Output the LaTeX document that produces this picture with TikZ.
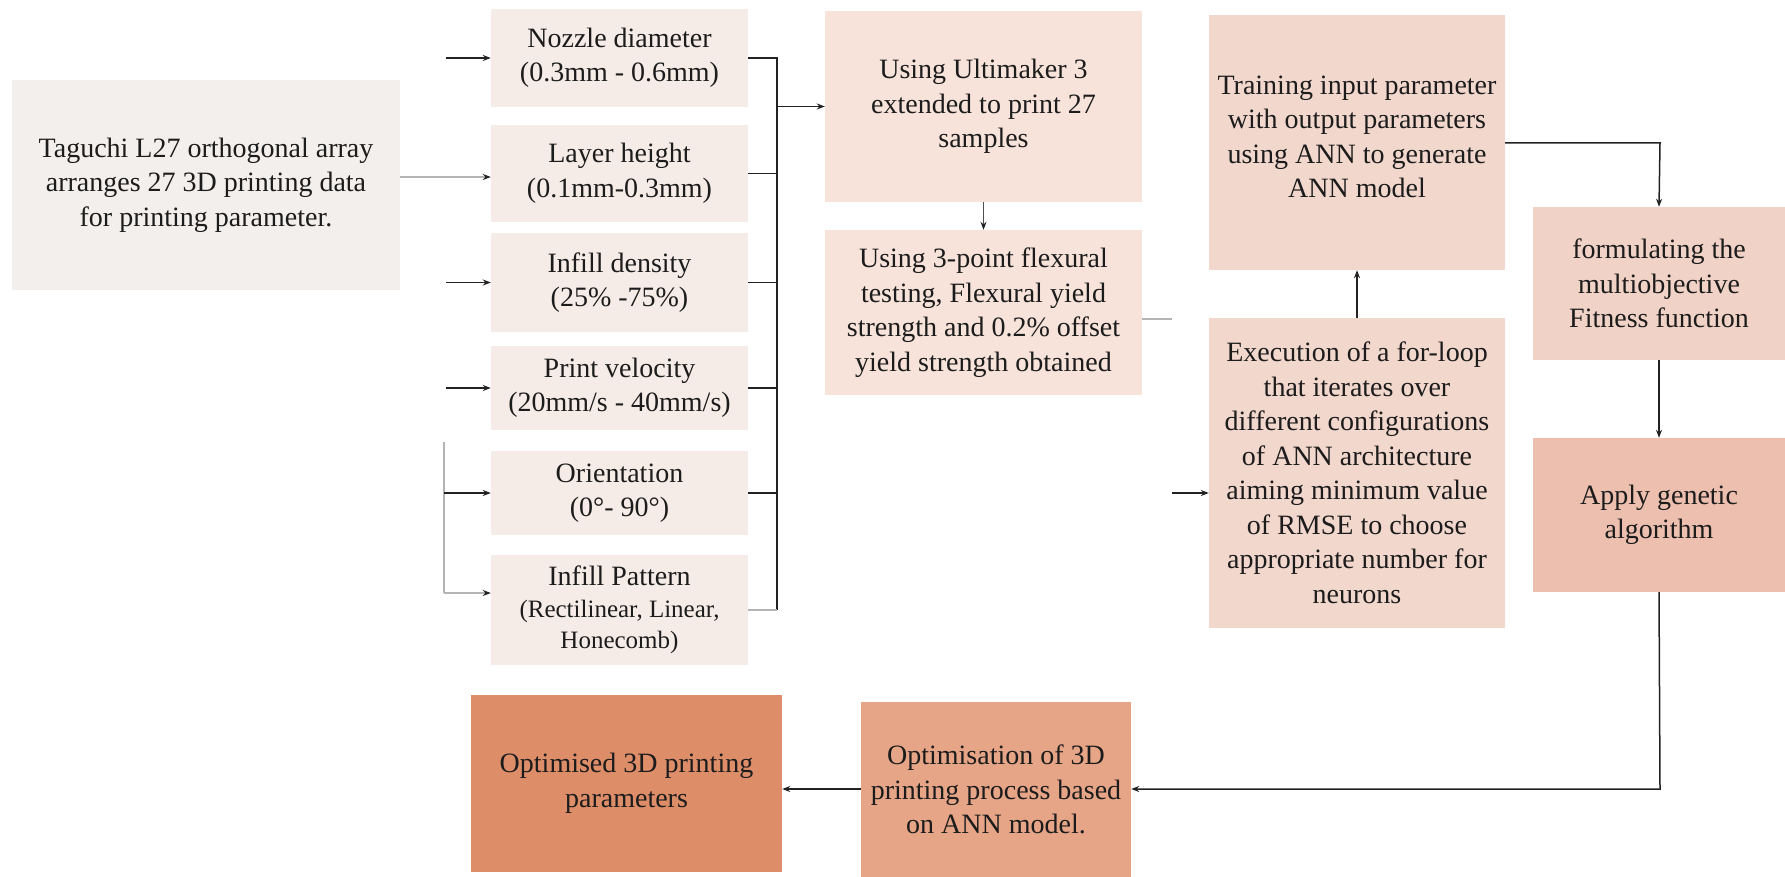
\documentclass[tikz,border=0pt]{standalone}
\usepackage{fontspec}
\setmainfont{LiberationSerif}[Extension=.ttf, UprightFont=*-Regular, BoldFont=*-Bold, ItalicFont=*-Italic]
\usetikzlibrary{arrows.meta,calc}

\definecolor{cTag}{HTML}{F3EFEC}
\definecolor{cPar}{HTML}{F6ECE7}
\definecolor{cPrint}{HTML}{F7E3DA}
\definecolor{cAnn}{HTML}{F2D7CD}
\definecolor{cForm}{HTML}{F1D2C6}
\definecolor{cGa}{HTML}{ECBFAE}
\definecolor{cProc}{HTML}{E7A587}
\definecolor{cOut}{HTML}{DE8D69}
\definecolor{cTxt}{HTML}{1C1C1C}
\definecolor{cLine}{HTML}{222222}
\definecolor{cFaint}{HTML}{B4B4B4}

\tikzset{
  box/.style={rectangle, inner sep=0pt, align=center, text=cTxt,
    font=\rmfamily\fontsize{28}{34.5}\selectfont},
  link/.style={draw=cLine, line width=1.5pt},
  flow/.style={link, -{Stealth[length=8pt,width=6pt]}},
  faint/.style={draw=cFaint, line width=1.4pt},
  faintflow/.style={faint, -{Stealth[length=8pt,width=6pt,color=cLine]}},
}

\begin{document}
\begin{tikzpicture}[x=1pt,y=-1pt]
\useasboundingbox (0,0) rectangle (1785,877);

% ---- input design ----
\node[box, fill=cTag, minimum width=388pt, minimum height=210pt] (tag) at (206,185)
  {Taguchi L27 orthogonal array\\arranges 27 3D printing data\\for printing parameter.};

% ---- printing parameters ----
\node[box, fill=cPar, minimum width=257pt, minimum height=98pt] (noz) at (619.5,58)
  {Nozzle diameter\\(0.3mm - 0.6mm)};
\node[box, fill=cPar, minimum width=257pt, minimum height=97pt] (lay) at (619.5,173.5)
  {Layer height\\(0.1mm-0.3mm)};
\node[box, fill=cPar, minimum width=257pt, minimum height=99pt] (inf) at (619.5,282.5)
  {Infill density\\(25\% -75\%)};
\node[box, fill=cPar, minimum width=257pt, minimum height=84pt] (vel) at (619.5,388)
  {Print velocity\\(20mm/s - 40mm/s)};
\node[box, fill=cPar, minimum width=257pt, minimum height=84pt] (ori) at (619.5,493)
  {Orientation\\(0°- 90°)};
\node[box, fill=cPar, minimum width=257pt, minimum height=110pt] (pat) at (619.5,610)
  {Infill Pattern\\[-3pt]{\fontsize{25}{28}\selectfont (Rectilinear, Linear,}\\[-3pt]{\fontsize{25}{28}\selectfont Honecomb)}};

% ---- printing and testing ----
\node[box, fill=cPrint, minimum width=317pt, minimum height=191pt] (ult) at (983.5,106.5)
  {Using Ultimaker 3\\extended to print 27\\samples};
\node[box, fill=cPrint, minimum width=317pt, minimum height=165pt] (flex) at (983.5,312.5)
  {Using 3-point flexural\\testing, Flexural yield\\strength and 0.2\% offset\\yield strength obtained};

% ---- ANN ----
\node[box, fill=cAnn, minimum width=296pt, minimum height=255pt] (train) at (1357,142.5) {};
\node[box, anchor=center] (trainTxt) at (1357,137)
  {Training input parameter\\with output parameters\\using ANN to generate\\ANN model};
\node[box, fill=cAnn, minimum width=296pt, minimum height=310pt] (exec) at (1357,473)
  {Execution of a for-loop\\that iterates over\\different configurations\\of ANN architecture\\aiming minimum value\\of RMSE to choose\\appropriate number for\\neurons};

% ---- optimisation ----
\node[box, fill=cForm, minimum width=252pt, minimum height=153pt] (form) at (1659,283.5)
  {formulating the\\multiobjective\\Fitness function};
\node[box, fill=cGa, minimum width=252pt, minimum height=154pt] (ga) at (1659,515)
  {Apply genetic\\algorithm};
\node[box, fill=cProc, minimum width=270pt, minimum height=175pt] (proc) at (996,789.5)
  {Optimisation of 3D\\printing process based\\on ANN model.};
\node[box, fill=cOut, minimum width=311pt, minimum height=177pt] (out) at (626.5,783.5)
  {Optimised 3D printing\\parameters};

% ---- free ends of connectors ----
\coordinate (inNoz) at (446,58);
\coordinate (inInf) at (446,282.5);
\coordinate (inVel) at (446,388);
\coordinate (brTop) at (444,442);
\coordinate (brOri) at (444,493);
\coordinate (brPat) at (444,593);
\coordinate (bus) at (777,0);
\coordinate (flexEnd) at (1172,319);
\coordinate (execIn) at (1172,493);
\coordinate (trainTurn) at (1660,143);
\coordinate (gaTurn) at (1660,789);

% ---- connectors into the parameters ----
\draw[flow] (inNoz) -- (noz.west);
\draw[faintflow] (tag.east |- 0,177) -- (lay.west |- 0,177);
\draw[flow] (inInf) -- (inf.west);
\draw[flow] (inVel) -- (vel.west);
\draw[faint] (brTop) -- (brPat);
\draw[flow] (brOri) -- (ori.west);
\draw[faintflow] (brPat) -- (pat.west |- brPat);

% ---- parameter bus into the printer ----
\draw[link] (noz.east) -- (noz.east -| bus) -- (pat.east -| bus);
\draw[link] (lay.east) -- (lay.east -| bus);
\draw[link] (inf.east) -- (inf.east -| bus);
\draw[link] (vel.east) -- (vel.east -| bus);
\draw[link] (ori.east) -- (ori.east -| bus);
\draw[faint] (pat.east) -- (pat.east -| bus);
\draw[flow] (ult.west -| bus) -- (ult.west);

% ---- printing, testing, ANN ----
\draw[faintflow, draw=cLine!80, line width=1.2pt] (ult.south) -- (flex.north);
\draw[faint] (flex.east |- flexEnd) -- (flexEnd);
\draw[flow, line width=1.3pt] (execIn) -- (exec.west |- execIn);
\draw[flow] (exec.north) -- (train.south);
\draw[flow] (train.east |- trainTurn) -- (trainTurn) -- (form.north);
\draw[flow] (form.south) -- (ga.north);
\draw[flow] (ga.south) -- (gaTurn) -- (proc.east |- gaTurn);
\draw[flow] (proc.west |- gaTurn) -- (out.east |- gaTurn);
\end{tikzpicture}
\end{document}
